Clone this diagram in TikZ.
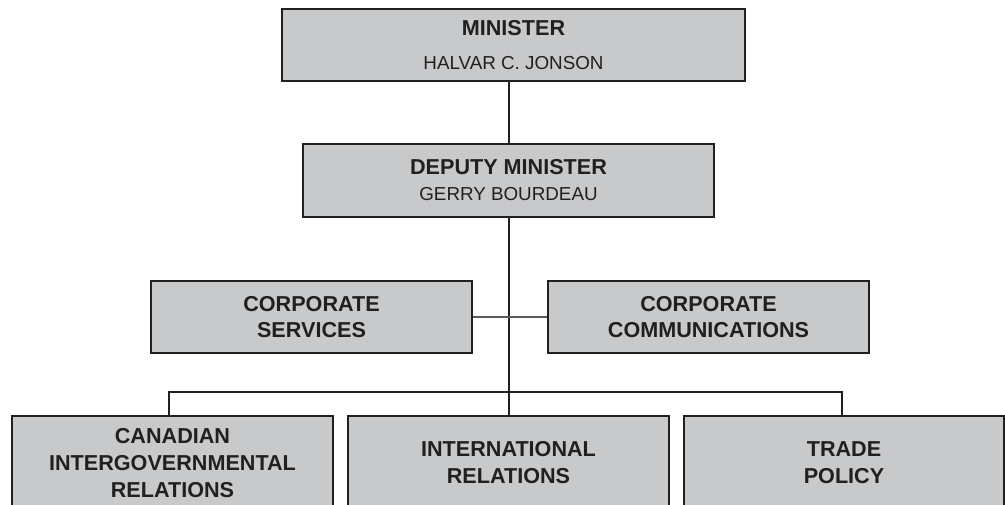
\documentclass[tikz,border=0pt]{standalone}
\usepackage{fontspec}
\setmainfont{Liberation Sans}
\definecolor{inkdark}{HTML}{231F20}
\definecolor{boxgray}{HTML}{C8C9CB}
\definecolor{sidegray}{HTML}{5A5A5A}
\begin{document}
\begin{tikzpicture}[x=1pt,y=-1pt,
  orgbox/.style={draw=inkdark, fill=boxgray, line width=2.2pt, inner sep=0pt,
    align=center, text=inkdark, font=\bfseries\fontsize{21.6}{26}\selectfont},
  unitbox/.style={orgbox, minimum width=321pt, minimum height=72pt},
  lowbox/.style={orgbox, minimum width=321pt, minimum height=94pt,
    font=\bfseries\fontsize{21.6}{27}\selectfont},
  trunkline/.style={draw=inkdark, line width=2pt},
  sideline/.style={draw=sidegray, line width=2pt},
  busline/.style={draw=inkdark, line width=1.6pt}]
\newcommand{\personname}[1]{{\mdseries\fontsize{18.8}{26}\selectfont #1}}
\useasboundingbox (0,0) rectangle (1005,504);
\clip (0,0) rectangle (1005,504);

% executive level
\node[orgbox, minimum width=463pt, minimum height=72pt] (minister) at (513.5,45)
  {MINISTER\\[8pt]\personname{HALVAR C. JONSON}};
\node[orgbox, minimum width=411pt, minimum height=73pt] (deputy) at (508.5,180.5)
  {DEPUTY MINISTER\\\personname{GERRY BOURDEAU}};

% support units
\node[unitbox] (corpsvc) at (311.5,317) {CORPORATE\\SERVICES};
\node[unitbox] (corpcomm) at (708.5,317) {CORPORATE\\COMMUNICATIONS};

% divisions
\node[lowbox] (canadian) at (172.5,463) {CANADIAN\\INTERGOVERNMENTAL\\RELATIONS};
\node[lowbox] (intl) at (508.5,463) {INTERNATIONAL\\RELATIONS};
\node[lowbox, minimum width=320pt] (trade) at (844,463) {TRADE\\POLICY};

% reporting lines
\coordinate (bus) at (508.5,392);
\draw[trunkline] (minister.south -| deputy.north) -- (deputy.north);
\draw[trunkline] (deputy.south) -- (intl.north);
\draw[sideline] (corpsvc.east) -- (corpcomm.west);
\draw[busline] ([xshift=-3.5pt]canadian.north) |- (bus) -| ([xshift=-2pt]trade.north);
\end{tikzpicture}
\end{document}
